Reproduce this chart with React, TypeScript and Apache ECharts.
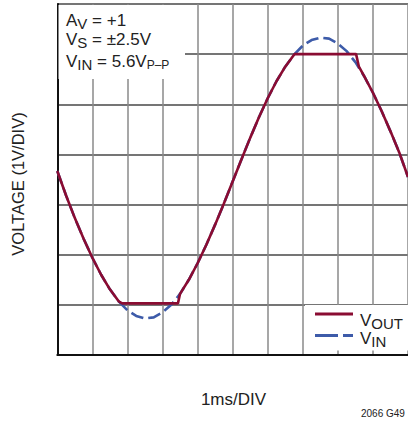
import React, { useEffect, useRef } from "react";
import * as echarts from "echarts";

// time (ms) and voltage (V)
const T_IN = [0, 0.25, 0.5, 0.75, 1, 1.25, 1.5, 1.75, 2, 2.25, 2.5, 2.75, 3, 3.25, 3.5, 3.75, 4, 4.25, 4.5, 4.75, 5,
  5.25, 5.5, 5.75, 6, 6.25, 6.5, 6.75, 7, 7.25, 7.5, 7.75, 8, 8.25, 8.5, 8.75, 9, 9.25, 9.5, 9.75, 10];
const V_IN = [0.17, -0.32, -0.77, -1.18, -1.56, -1.9, -2.19, -2.43, -2.61, -2.72, -2.77, -2.75, -2.65, -2.5, -2.28, -2.0, -1.67, -1.3, -0.9, -0.48, -0.04,
  0.4, 0.83, 1.24, 1.62, 1.96, 2.25, 2.49, 2.67, 2.78, 2.83, 2.81, 2.71, 2.56, 2.34, 2.06, 1.73, 1.36, 0.96, 0.54, 0.05];

const T_OUT = [0, 0.25, 0.5, 0.75, 1, 1.25, 1.5, 1.75, 1.85, 3.44, 3.5, 3.75, 4, 4.25, 4.5, 4.75, 5,
  5.25, 5.5, 5.75, 6, 6.25, 6.5, 6.75, 6.77, 8.52, 8.6, 8.75, 9, 9.25, 9.5, 9.75, 10];
const V_OUT = [0.17, -0.32, -0.77, -1.18, -1.56, -1.9, -2.19, -2.43, -2.47, -2.47, -2.28, -2.0, -1.67, -1.3, -0.9, -0.48, -0.04,
  0.4, 0.83, 1.24, 1.62, 1.96, 2.25, 2.49, 2.5, 2.5, 2.25, 2.06, 1.73, 1.36, 0.96, 0.54, 0.05];

// axis: 7 divisions of 1 V, from -3.5 V to +3.5 V; 10 divisions of 1 ms
const Y_MIN_V = -3.5;
const Y_DIVS = 7;
const X_DIVS = 10;

const RED = "#8a0c32";
const BLUE = "#3d5ba9";
const FONT = '"Liberation Sans Narrow", "Liberation Sans", Arial, sans-serif';

export default function App() {
  const ref = useRef<HTMLDivElement>(null);
  useEffect(() => {
    if (!ref.current) return;
    const chart = echarts.init(ref.current, undefined, { renderer: "svg" });
    const toDiv = (v: number) => v - Y_MIN_V;
    const inData = T_IN.map((t, i) => [t, toDiv(V_IN[i])]);
    const outData = T_OUT.map((t, i) => [t, toDiv(V_OUT[i])]);
    const sub = (size: number, pad: number) => ({ fontSize: size, fontFamily: FONT, fill: "#222", padding: [pad, 0, 0, 0] });
    const txt = (x: number, y: number, text: string, extra: any = {}) => ({
      type: "text", x, y, z: 101,
      style: {
        text, fontSize: 17, fontFamily: FONT, fill: "#222", verticalAlign: "middle", align: "left",
        rich: { b: { fontSize: 17, fontFamily: FONT, fill: "#222" }, s: sub(15, 6), p: sub(12, 7) },
        ...extra,
      },
    });
    chart.setOption({
      animation: false,
      grid: { left: 57.3, top: 4, right: -1.5, bottom: 70 },
      xAxis: {
        type: "value", min: 0, max: X_DIVS, interval: 1,
        axisLine: { show: true, onZero: false, lineStyle: { color: "#111", width: 2 } },
        axisTick: { show: false }, axisLabel: { show: false },
        splitLine: { show: true, lineStyle: { color: "#8a8a8a", width: 1.5 } },
      },
      yAxis: {
        type: "value", min: 0, max: Y_DIVS, interval: 1,
        axisLine: { show: true, lineStyle: { color: "#111", width: 2 } },
        axisTick: { show: false }, axisLabel: { show: false },
        splitLine: { show: true, lineStyle: { color: "#474747", width: 1.5 } },
      },
      series: [
        { name: "VIN", type: "line", data: inData, symbol: "none", z: 3,
          lineStyle: { color: BLUE, width: 2.6, type: [13, 5] } },
        { name: "VOUT", type: "line", data: outData, symbol: "none", z: 4,
          lineStyle: { color: RED, width: 2.6 } },
      ],
      graphic: [
        { type: "rect", z: 100, shape: { x: 58.5, y: 5, width: 126.5, height: 74 }, style: { fill: "#fff" } },
        { type: "rect", z: 100, shape: { x: 305, y: 305, width: 105, height: 45.5 }, style: { fill: "#fff" } },
        txt(66, 20.5, "A{s|V} = +1"),
        txt(66, 39.5, "V{s|S} = ±2.5V"),
        txt(66, 61.5, "V{s|IN} = 5.6V{p|P–P}"),
        { type: "line", z: 101, shape: { x1: 315, y1: 314, x2: 353, y2: 314 }, style: { stroke: RED, lineWidth: 3 } },
        { type: "line", z: 101, shape: { x1: 315, y1: 335.5, x2: 353, y2: 335.5 }, style: { stroke: BLUE, lineWidth: 3, lineDash: [23, 5] } },
        txt(360, 320, "V{s|OUT}"),
        txt(360, 338.5, "V{s|IN}"),
        { type: "text", x: 18, y: 184, rotation: Math.PI / 2, z: 101,
          style: { text: "VOLTAGE (1V/DIV)", fontSize: 16.5, fontFamily: FONT, fill: "#222", align: "center", verticalAlign: "middle" } },
        { type: "text", x: 233.5, y: 399, z: 101,
          style: { text: "1ms/DIV", fontSize: 17, fontFamily: FONT, fill: "#222", align: "center", verticalAlign: "middle" } },
        { type: "text", x: 361, y: 413, z: 101,
          style: { text: "2066 G49", fontSize: 10, fontFamily: FONT, fill: "#222", align: "left", verticalAlign: "middle" } },
      ],
    });
    return () => chart.dispose();
  }, []);
  return <div ref={ref} style={{ position: "absolute", left: 0, top: 0, width: 408, height: 425 }} />;
}
